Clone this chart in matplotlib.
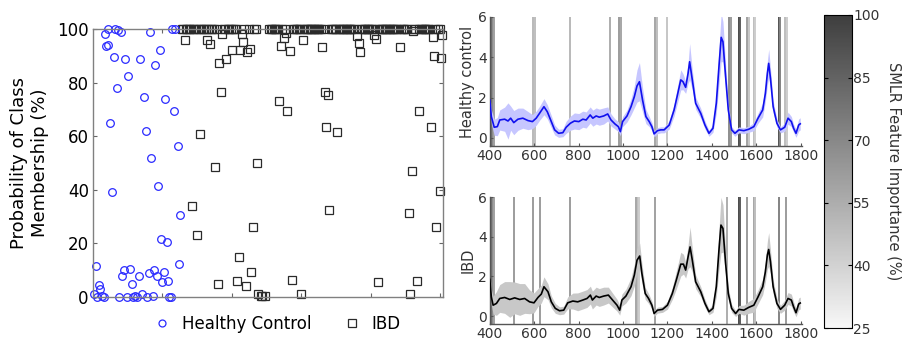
import numpy as np
import matplotlib.pyplot as plt
from matplotlib.colors import LinearSegmentedColormap, Normalize
from matplotlib.cm import ScalarMappable
from matplotlib.lines import Line2D

plt.rcParams['font.family'] = 'DejaVu Sans'

# ---- left panel: probability of class membership per sample (%)
hc_x = [1, 2, 3, 4, 5, 6.5, 8, 9, 9.5, 10.5, 11, 12.5, 14, 15, 16, 17, 18, 19, 20, 21,
        22, 23, 24.5, 25.5, 27, 28, 29, 30.5, 31.5, 33, 34, 35, 36.5, 38, 39, 40, 41, 42,
        43, 44, 45, 46, 47, 48, 49, 50, 51, 52, 53, 54, 55, 56, 57, 58, 59, 61, 62, 63]
hc_y = [1, 11.5, 0, 4.5, 3, 0.5, 0, 98, 93.5, 94, 100, 65, 39, 89.5, 100, 78, 99.5, 0, 99, 8,
        10, 89, 0, 82.5, 10.5, 5, 0, 0.5, 0, 8, 89, 1, 74.5, 62, 0, 9, 99, 52,
        0.5, 10, 86.5, 8, 41.5, 92, 21.5, 5.5, 9.5, 74, 20.5, 6, 0, 0, 100, 69.5, 100, 56.5, 12.5, 30.5]

ibd_x = [66, 71, 75, 77, 82, 84, 88, 90, 91, 92, 93, 96, 100, 104, 105, 106, 107, 108, 110,
         111, 113, 114, 115, 118, 119, 121, 122, 124, 134, 135.7, 137.4, 139, 140, 141.7, 143,
         150, 151.3, 165.2, 167, 168, 169, 170, 176, 189.7, 191.6, 192, 202, 204, 205.5, 220.9,
         227.5, 228, 229.5, 230.4, 233, 234.5, 243.5, 244.4, 245.3, 247, 249.5, 250.4, 251.3]
ibd_y = [96, 34, 23, 61, 96, 94.5, 48.5, 5, 87.5, 76.5, 98, 89, 92, 6, 15, 92, 98, 95, 4,
         91.5, 92.5, 9.5, 26, 50, 1, 0.5, 0.5, 0.5, 73, 93.7, 96.5, 98.5, 69.5, 91.9, 6.5,
         1, 95.9, 93.4, 76.5, 63.5, 75.5, 32.5, 61.5, 97.4, 94.9, 91.5, 97.8, 96.2, 5.5, 93.2,
         31.5, 1, 47, 99.4, 6, 69.5, 63.5, 97.1, 89.9, 26, 39.5, 89.3, 97.8]

# IBD samples sitting at 100 %
ibd_top_x = [64, 65, 67, 68, 69, 70, 72, 73, 74, 76, 78, 79, 80, 81, 83, 85, 86, 87, 89, 94,
             95, 97, 98, 99, 101, 102, 103, 109, 112, 116, 117, 127, 128, 129, 130, 131, 132,
             133, 136, 138, 144, 145, 146, 147, 148, 149, 152, 153, 154, 155, 156, 157, 158,
             159, 160, 161, 162, 163, 164, 166, 171, 172, 173, 174, 175, 177, 178, 179, 180,
             181, 182, 183, 184, 185, 186, 187, 188, 193, 194, 195, 196, 197, 198, 199, 200,
             201, 203, 206, 207, 208, 209, 210, 211, 212, 213, 214, 215, 216, 217, 218, 219,
             222, 223, 224, 225, 226, 231, 232, 235, 236, 237, 238, 239, 240, 241, 242, 246,
             248, 250]

# ---- right panels: mean spectra and standard deviation
hc_wn = [400, 407, 420, 434, 445, 467, 482, 494, 508, 527, 549, 572, 592, 609, 624, 644, 659,
         677, 692, 710, 729, 744, 763, 781, 801, 819, 834, 852, 864, 879, 893, 913, 931, 946,
         964, 979, 988, 998, 1018, 1036, 1051, 1063, 1074, 1088, 1103, 1118, 1130, 1140, 1155,
         1170, 1185, 1208, 1230, 1245, 1260, 1270, 1282, 1293, 1300, 1312, 1327, 1350, 1369,
         1387, 1405, 1420, 1432, 1442, 1450, 1462, 1474, 1489, 1504, 1522, 1544, 1566, 1589,
         1608, 1629, 1641, 1650, 1656, 1664, 1676, 1693, 1709, 1728, 1743, 1758, 1768, 1779,
         1791, 1798]
hc_mean = [1.88, 1.06, 0.53, 0.56, 0.89, 0.93, 0.84, 0.98, 0.76, 0.93, 0.98, 0.86, 0.81, 0.98,
           1.22, 1.55, 1.30, 0.81, 0.40, 0.23, 0.26, 0.53, 0.73, 0.84, 0.81, 0.93, 0.89, 1.14,
           0.98, 1.09, 1.03, 1.09, 1.19, 0.89, 0.69, 0.56, 0.31, 0.81, 1.09, 1.55, 2.05, 2.58,
           2.79, 1.88, 1.06, 0.81, 0.56, 0.20, 0.36, 0.40, 0.40, 0.64, 1.39, 2.13, 2.88, 2.79,
           2.51, 3.21, 3.78, 2.88, 1.72, 1.22, 0.64, 0.23, 0.48, 1.72, 3.54, 4.99, 4.77, 3.04,
           1.39, 0.40, 0.23, 0.40, 0.36, 0.43, 0.56, 0.98, 1.39, 2.21, 3.21, 3.70, 2.96, 1.55,
           0.73, 0.40, 0.53, 0.98, 0.81, 0.48, 0.23, 0.64, 0.70]
hc_std = [0.3, 0.35, 0.4, 0.45, 0.5, 0.6, 0.9, 0.6, 0.6, 0.55, 0.5, 0.45, 0.35, 0.35,
          0.35, 0.4, 0.35, 0.3, 0.25, 0.2, 0.2, 0.3, 0.35, 0.4, 0.4, 0.4, 0.4, 0.4,
          0.4, 0.4, 0.4, 0.4, 0.35, 0.3, 0.25, 0.25, 0.2, 0.25, 0.3, 0.4, 0.55, 0.8,
          0.95, 0.6, 0.35, 0.25, 0.2, 0.15, 0.15, 0.15, 0.15, 0.2, 0.3, 0.4, 0.5, 0.4,
          0.3, 0.5, 0.9, 0.5, 0.3, 0.25, 0.2, 0.15, 0.2, 0.5, 0.9, 1.2, 1.0, 0.6,
          0.3, 0.15, 0.15, 0.15, 0.15, 0.15, 0.2, 0.25, 0.35, 0.4, 0.6, 0.7, 0.5, 0.3,
          0.2, 0.15, 0.2, 0.3, 0.25, 0.2, 0.2, 0.3, 0.3]

ibd_wn = [400, 407, 415, 430, 445, 467, 490, 512, 535, 557, 579, 599, 617, 632, 644, 662, 677,
          695, 714, 733, 751, 774, 796, 819, 838, 853, 862, 879, 893, 913, 934, 953, 973, 985,
          995, 1013, 1036, 1051, 1063, 1075, 1085, 1100, 1115, 1130, 1140, 1155, 1178, 1200,
          1222, 1240, 1260, 1272, 1282, 1293, 1302, 1312, 1327, 1350, 1369, 1387, 1405, 1420,
          1432, 1441, 1450, 1462, 1474, 1489, 1507, 1522, 1544, 1566, 1589, 1608, 1629, 1641,
          1650, 1656, 1664, 1676, 1693, 1709, 1728, 1743, 1758, 1768, 1779, 1791, 1798]
ibd_mean = [1.85, 0.97, 0.55, 0.64, 0.89, 0.94, 0.84, 0.92, 0.84, 0.89, 0.72, 0.67, 0.94,
            1.11, 1.48, 1.23, 0.72, 0.39, 0.27, 0.30, 0.67, 0.76, 0.72, 0.81, 0.89, 1.06, 0.81,
            1.01, 0.94, 1.01, 1.06, 0.81, 0.55, 0.30, 0.81, 1.01, 1.48, 2.07, 2.82, 3.03, 2.15,
            1.14, 0.89, 0.55, 0.13, 0.30, 0.34, 0.55, 1.14, 1.82, 2.62, 2.62, 2.32, 2.99, 3.49,
            2.82, 1.73, 1.23, 0.64, 0.22, 0.39, 1.48, 3.33, 4.59, 4.42, 2.66, 1.14, 0.39, 0.13,
            0.34, 0.30, 0.44, 0.55, 0.97, 1.48, 2.23, 3.08, 3.36, 2.74, 1.48, 0.64, 0.34, 0.55,
            0.89, 0.81, 0.47, 0.17, 0.61, 0.66]
ibd_std = [0.3, 0.4, 0.45, 0.6, 0.7, 0.8, 0.9, 0.8, 0.8, 0.75, 0.6, 0.5, 0.45,
           0.45, 0.5, 0.4, 0.3, 0.25, 0.2, 0.2, 0.3, 0.4, 0.45, 0.45, 0.45, 0.45, 0.45,
           0.45, 0.45, 0.45, 0.4, 0.35, 0.3, 0.25, 0.3, 0.35, 0.45, 0.55, 0.6, 0.65, 0.5,
           0.3, 0.25, 0.2, 0.15, 0.15, 0.15, 0.2, 0.3, 0.45, 0.6, 0.5, 0.4, 0.6, 1.0,
           0.6, 0.35, 0.25, 0.2, 0.15, 0.2, 0.5, 1.0, 1.4, 1.2, 0.6, 0.3, 0.2, 0.15,
           0.2, 0.25, 0.3, 0.35, 0.35, 0.4, 0.5, 0.7, 0.85, 0.6, 0.35, 0.25, 0.2, 0.25,
           0.3, 0.3, 0.25, 0.2, 0.3, 0.3]

# SMLR selected features: wavenumber and importance (%)
hc_feat_wn = [400, 405, 414, 419, 594, 605, 759, 943, 983, 989, 1145, 1155, 1196, 1477, 1484,
              1522, 1529, 1560, 1566, 1589, 1596, 1701, 1707, 1731, 1738]
hc_feat_imp = [98, 80, 70, 60, 50, 48, 50, 55, 62, 58, 58, 48, 45, 68, 62,
               95, 88, 60, 45, 48, 42, 92, 72, 48, 42]
ibd_feat_wn = [400, 405, 414, 419, 509, 594, 624, 759, 1058, 1066, 1073, 1145, 1466, 1522,
               1529, 1560, 1589, 1596, 1701, 1735]
ibd_feat_imp = [98, 80, 70, 60, 62, 62, 62, 62, 58, 48, 42, 60, 55, 95,
                88, 62, 58, 48, 72, 62]

imp_ticks = [25, 40, 55, 70, 85, 100]

cmap = LinearSegmentedColormap.from_list('imp', ['#f7f7f7', '#3e3e3e'])
norm = Normalize(25, 100)

fig = plt.figure(figsize=(9.07, 3.44), dpi=100)

# ---- scatter panel
ax = fig.add_axes([0.1025, 0.1366, 0.386, 0.779])
ax.plot(ibd_top_x, np.full(len(ibd_top_x), 100.0), 's', ms=5.7, mfc='none', mec='#2a2a2a',
        mew=0.9, clip_on=False)
ax.plot(ibd_x, ibd_y, 's', ms=5.7, mfc='none', mec='#2a2a2a', mew=0.9, clip_on=False)
ax.plot(hc_x, hc_y, 'o', ms=5.5, mfc='none', mec='#2b2bff', mew=0.9, clip_on=False)
ax.set_xlim(0, 252)
ax.set_ylim(0, 100)
ax.set_xticks([50, 100, 150, 200, 250])
ax.set_xticklabels([])
ax.set_yticks([0, 20, 40, 60, 80, 100])
ax.tick_params(direction='in', length=3, top=True, right=True, color='#666666',
               labelsize=12, pad=3)
for s in ax.spines.values():
    s.set_color('#808080')
    s.set_linewidth(1.0)
ax.set_ylabel('Probability of Class\nMembership (%)', fontsize=13, labelpad=6)

handles = [Line2D([], [], ls='none', marker='o', ms=5, mfc='none', mec='#2b2bff', mew=0.9),
           Line2D([], [], ls='none', marker='s', ms=6, mfc='none', mec='#2a2a2a', mew=0.9)]
fig.legend(handles, ['Healthy Control', 'IBD'], loc='center', bbox_to_anchor=(0.305, 0.058),
           ncol=2, frameon=False, fontsize=12, handletextpad=0.6, columnspacing=1.8,
           handlelength=1.2)


def spectrum_panel(rect, wn, mean, std, feat_wn, feat_imp, line_col, band_col, label):
    a = fig.add_axes(rect)
    for w, v in zip(feat_wn, feat_imp):
        a.axvline(w, color=cmap(norm(v)), lw=1.4, zorder=1)
    mean = np.array(mean)
    std = np.array(std)
    a.fill_between(wn, mean - std, mean + std, color=band_col, lw=0, zorder=2)
    a.plot(wn, mean, color=line_col, lw=1.2, zorder=3)
    a.set_xlim(400, 1805)
    a.set_ylim(-0.4, 6)
    a.set_xticks(range(400, 1801, 200))
    a.set_yticks([0, 2, 4, 6])
    a.spines['top'].set_visible(False)
    a.spines['right'].set_visible(False)
    for s in ('left', 'bottom'):
        a.spines[s].set_color('#555555')
        a.spines[s].set_linewidth(1.0)
    a.tick_params(direction='in', length=2.5, labelsize=10, labelcolor='#333333',
                  color='#555555', pad=2)
    a.set_ylabel(label, fontsize=10.5, color='#333333', labelpad=2)
    return a


spectrum_panel([0.540, 0.5756, 0.344, 0.375], hc_wn, hc_mean, hc_std, hc_feat_wn, hc_feat_imp,
               '#1010ee', '#c6c6ff', 'Healthy control')
spectrum_panel([0.540, 0.058, 0.344, 0.369], ibd_wn, ibd_mean, ibd_std, ibd_feat_wn, ibd_feat_imp,
               'black', '#c8c8c8', 'IBD')

# ---- colorbar
cax = fig.add_axes([0.9085, 0.0465, 0.0309, 0.91])
cb = fig.colorbar(ScalarMappable(norm=norm, cmap=cmap), cax=cax, ticks=imp_ticks)
cb.outline.set_linewidth(0.8)
cb.ax.tick_params(direction='in', length=3, labelsize=10, labelcolor='#333333', pad=1,
                  left=True)
cb.set_label('SMLR Feature Importance (%)', rotation=270, fontsize=10.5, color='#333333',
             labelpad=15)

fig.savefig('out.png', dpi=100)
